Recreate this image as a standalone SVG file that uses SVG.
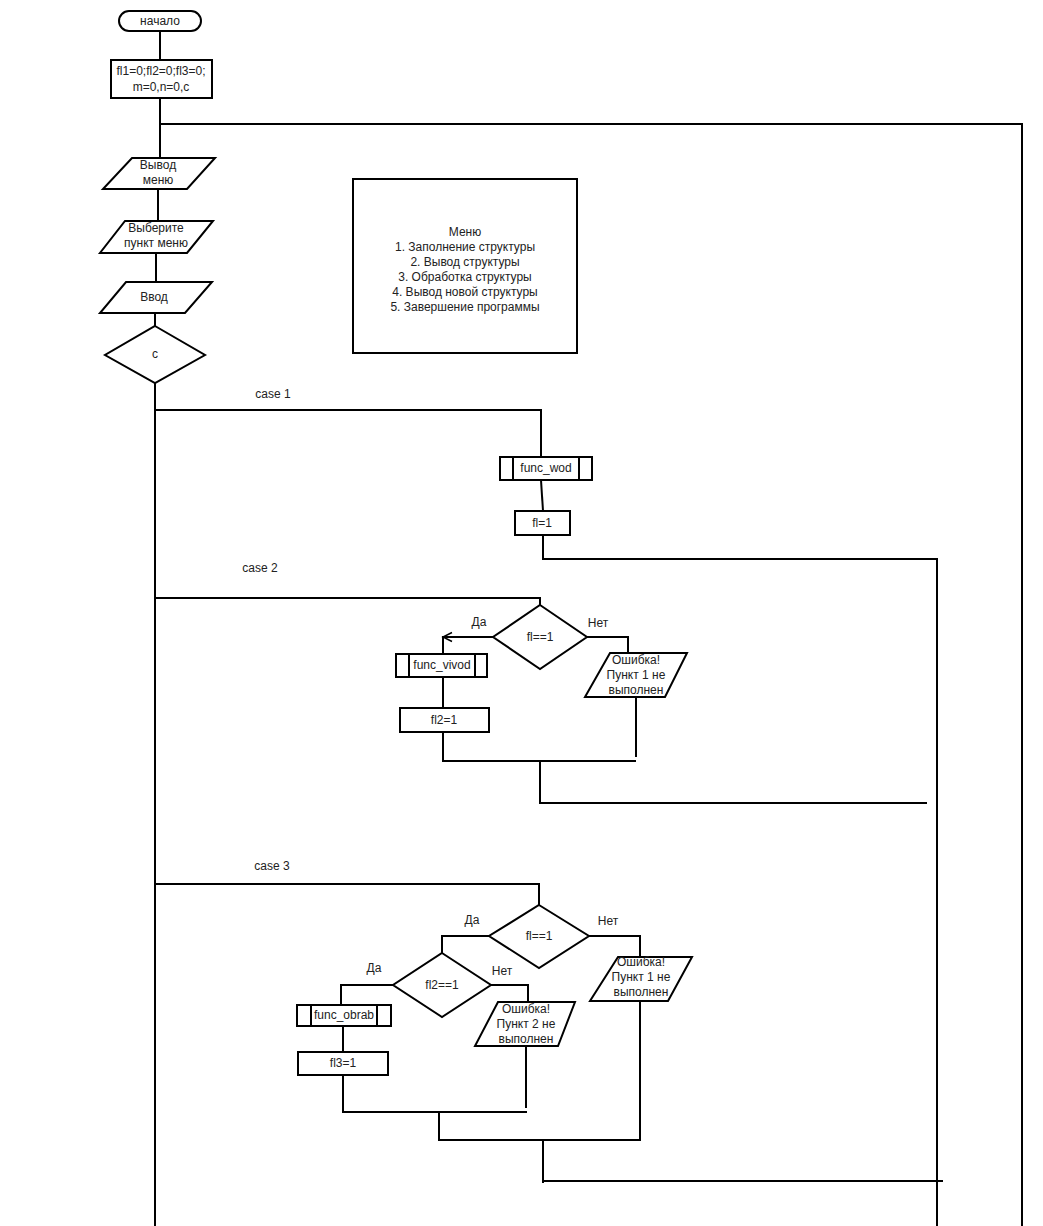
<svg xmlns="http://www.w3.org/2000/svg" width="1043" height="1226" viewBox="0 0 1043 1226">
<defs>
<style>
.s{fill:#fff;stroke:#000;stroke-width:2}
.c{fill:none;stroke:#000;stroke-width:2}
.t{font-family:"Liberation Sans",Arial,sans-serif;font-size:12px;fill:#222;text-anchor:middle}
.l{font-family:"Liberation Sans",Arial,sans-serif;font-size:12px;fill:#222;text-anchor:middle}
</style>
<marker id="arr" markerWidth="12" markerHeight="12" refX="10" refY="6" orient="auto" markerUnits="userSpaceOnUse">
<polyline points="1,1.5 10,6 1,10.5" fill="none" stroke="#000" stroke-width="1.5"/>
</marker>
</defs>
<rect width="1043" height="1226" fill="#fff"/>
<g id="connectors">
<path class="c" d="M160 31V60"/>
<path class="c" d="M160 98V158"/>
<path class="c" d="M160 124H1022V1226"/>
<path class="c" d="M158 189V221"/>
<path class="c" d="M156 253V282"/>
<path class="c" d="M155 313V326"/>
<path class="c" d="M155 383V1226"/>
<path class="c" d="M155 410H541V457"/>
<path class="c" d="M541 480L543 511"/>
<path class="c" d="M543 535V559H937V1226"/>
<path class="c" d="M155 598H540V605"/>
<path class="c" d="M493 637H443" marker-end="url(#arr)"/>
<path class="c" d="M443 636V654"/>
<path class="c" d="M443 677V708"/>
<path class="c" d="M443 732V761H636"/>
<path class="c" d="M587 637H628V653"/>
<path class="c" d="M636 697V757"/>
<path class="c" d="M540 761V803H927"/>
<path class="c" d="M155 884H539V905"/>
<path class="c" d="M489 936H442V953"/>
<path class="c" d="M393 985H341V1005"/>
<path class="c" d="M343 1026V1052"/>
<path class="c" d="M343 1075V1112H527"/>
<path class="c" d="M491 985H528V1002"/>
<path class="c" d="M526 1046V1108"/>
<path class="c" d="M589 936H640V957"/>
<path class="c" d="M640 1001V1140H439V1112"/>
<path class="c" d="M543 1140V1183"/>
<path class="c" d="M543 1181H943"/>
</g>
<g id="labels">
<text class="l" x="273" y="398">case 1</text>
<text class="l" x="260" y="572">case 2</text>
<text class="l" x="272" y="870">case 3</text>
<text class="l" x="479" y="626">Да</text>
<text class="l" x="598" y="627">Нет</text>
<text class="l" x="472" y="924">Да</text>
<text class="l" x="608" y="925">Нет</text>
<text class="l" x="374" y="972">Да</text>
<text class="l" x="502" y="975">Нет</text>
</g>
<g id="start">
<rect class="s" x="119" y="11" width="82" height="20" rx="10"/>
<text class="t" x="160" y="25">начало</text>
</g>
<g id="init">
<rect class="s" x="111" y="60" width="101" height="38"/>
<text class="t" x="161" y="75">fl1=0;fl2=0;fl3=0;</text>
<text class="t" x="161" y="91">m=0,n=0,c</text>
</g>
<g id="menu-out">
<polygon class="s" points="132,158 215,158 187,189 103,189"/>
<text class="t" x="158" y="169">Вывод</text>
<text class="t" x="158" y="184">меню</text>
</g>
<g id="choose">
<polygon class="s" points="125,221 213,221 187,253 100,253"/>
<text class="t" x="156" y="232">Выберите</text>
<text class="t" x="156" y="247">пункт меню</text>
</g>
<g id="input">
<polygon class="s" points="126,282 212,282 185,313 100,313"/>
<text class="t" x="154" y="301">Ввод</text>
</g>
<g id="switch">
<polygon class="s" points="155,326 205,355 155,383 105,355"/>
<text class="t" x="155" y="358">c</text>
</g>
<g id="menu-box">
<rect class="s" x="353" y="179" width="224" height="174"/>
<text class="t" x="465" y="236">Меню</text>
<text class="t" x="465" y="251">1. Заполнение структуры</text>
<text class="t" x="465" y="266">2. Вывод структуры</text>
<text class="t" x="465" y="281">3. Обработка структуры</text>
<text class="t" x="465" y="296">4. Вывод новой структуры</text>
<text class="t" x="465" y="311">5. Завершение программы</text>
</g>
<g id="func-wod">
<rect class="s" x="500" y="457" width="92" height="23"/>
<path class="c" d="M513 457V480M579 457V480"/>
<text class="t" x="546" y="472">func_wod</text>
</g>
<g id="fl1">
<rect class="s" x="515" y="511" width="55" height="24"/>
<text class="t" x="542" y="527">fl=1</text>
</g>
<g id="cond2">
<polygon class="s" points="540,605 587,637 540,669 493,637"/>
<text class="t" x="540" y="641">fl==1</text>
</g>
<g id="func-vivod">
<rect class="s" x="396" y="654" width="91" height="23"/>
<path class="c" d="M409 654V677M475 654V677"/>
<text class="t" x="442" y="669">func_vivod</text>
</g>
<g id="fl2">
<rect class="s" x="400" y="708" width="89" height="24"/>
<text class="t" x="444" y="724">fl2=1</text>
</g>
<g id="err2">
<polygon class="s" points="610,653 687,653 665,697 585,697"/>
<text class="t" x="636" y="664">Ошибка!</text>
<text class="t" x="636" y="679">Пункт 1 не</text>
<text class="t" x="636" y="694">выполнен</text>
</g>
<g id="cond3a">
<polygon class="s" points="539,905 589,936 539,968 489,936"/>
<text class="t" x="539" y="940">fl==1</text>
</g>
<g id="cond3b">
<polygon class="s" points="442,953 491,985 442,1017 393,985"/>
<text class="t" x="442" y="989">fl2==1</text>
</g>
<g id="func-obrab">
<rect class="s" x="297" y="1005" width="94" height="21"/>
<path class="c" d="M311 1005V1026M377 1005V1026"/>
<text class="t" x="344" y="1019">func_obrab</text>
</g>
<g id="fl3">
<rect class="s" x="298" y="1052" width="90" height="23"/>
<text class="t" x="343" y="1067">fl3=1</text>
</g>
<g id="err3b">
<polygon class="s" points="498,1002 575,1002 558,1046 475,1046"/>
<text class="t" x="526" y="1013">Ошибка!</text>
<text class="t" x="526" y="1028">Пункт 2 не</text>
<text class="t" x="526" y="1043">выполнен</text>
</g>
<g id="err3a">
<polygon class="s" points="618,957 692,957 668,1001 590,1001"/>
<text class="t" x="641" y="966">Ошибка!</text>
<text class="t" x="641" y="981">Пункт 1 не</text>
<text class="t" x="641" y="996">выполнен</text>
</g>
</svg>
